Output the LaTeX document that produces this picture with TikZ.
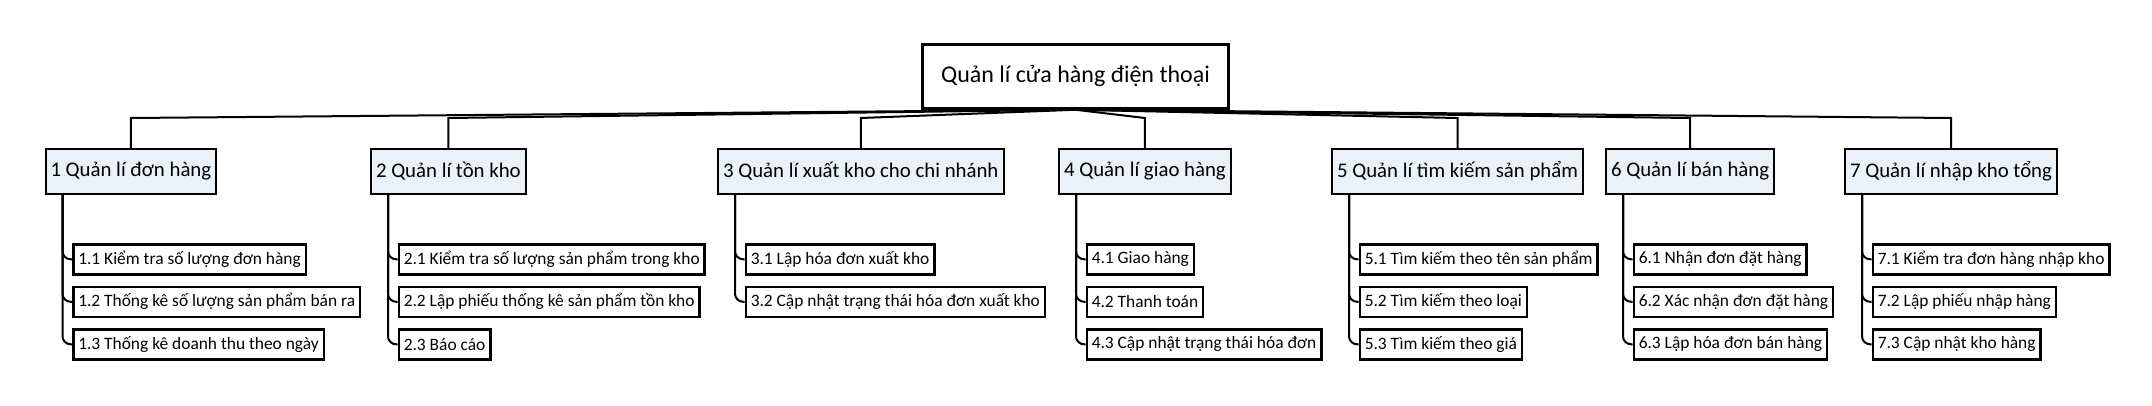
\documentclass[tikz,border=0pt]{standalone}
\usepackage{fontspec}
\setmainfont{Carlito}
\usetikzlibrary{positioning}
\definecolor{funcfill}{RGB}{234,241,249}
\tikzset{
  root/.style={
    rectangle,
    draw=black,
    line width=2.5pt,
    minimum width=306pt,
    minimum height=64pt,
    align=center,
    font=\fontsize{24}{28}\selectfont
  },
  func/.style={
    rectangle,
    draw=black,
    line width=2pt,
    fill=funcfill,
    minimum height=45pt,
    inner xsep=5pt,
    anchor=west,
    font=\fontsize{20.8}{24}\selectfont
  },
  task/.style={
    rectangle,
    draw=black,
    line width=2.5pt,
    minimum height=30pt,
    inner xsep=5pt,
    font=\fontsize{17.4}{20}\selectfont
  },
  link/.style={line width=2pt},
  branch/.style={line width=2pt, rounded corners=8pt}
}

\begin{document}
\begin{tikzpicture}[x=1pt, y=-1pt, node distance=10pt]
  \useasboundingbox (0,0) rectangle (2152,405);
  \node (root) [root] at (1075.5,76.5) {Quản lí cửa hàng điện thoại};
  \coordinate (bus) at (0,118);

  % chuc nang chinh
  \node (f1) [func] at (44.5,171.5) {1 Quản lí đơn hàng};
  \node (f2) [func] at (370,171.5) {2 Quản lí tồn kho};
  \node (f3) [func] at (717,171.5) {3 Quản lí xuất kho cho chi nhánh};
  \node (f4) [func] at (1058,171.5) {4 Quản lí giao hàng};
  \node (f5) [func] at (1331,171.5) {5 Quản lí tìm kiếm sản phẩm};
  \node (f6) [func] at (1605,171.5) {6 Quản lí bán hàng};
  \node (f7) [func] at (1844,171.5) {7 Quản lí nhập kho tổng};

  \foreach \f in {f1,f2,f3,f4,f5,f6,f7}
    \draw[link] (root.south) -- (\f.north |- bus) -- (\f.north);

  % 1
  \node (t11) [task, below=48pt of f1.south west, xshift=27.5pt, anchor=north west] {1.1 Kiểm tra số lượng đơn hàng};
  \node (t12) [task, below=of t11.south west, anchor=north west] {1.2 Thống kê số lượng sản phẩm bán ra};
  \node (t13) [task, below=of t12.south west, anchor=north west] {1.3 Thống kê doanh thu theo ngày};
  % 2
  \node (t21) [task, below=48pt of f2.south west, xshift=27.5pt, anchor=north west] {2.1 Kiểm tra số lượng sản phẩm trong kho};
  \node (t22) [task, below=of t21.south west, anchor=north west] {2.2 Lập phiếu thống kê sản phẩm tồn kho};
  \node (t23) [task, below=of t22.south west, anchor=north west] {2.3 Báo cáo};
  % 3
  \node (t31) [task, below=48pt of f3.south west, xshift=27.5pt, anchor=north west] {3.1 Lập hóa đơn xuất kho};
  \node (t32) [task, below=of t31.south west, anchor=north west] {3.2 Cập nhật trạng thái hóa đơn xuất kho};
  % 4
  \node (t41) [task, below=48pt of f4.south west, xshift=27.5pt, anchor=north west] {4.1 Giao hàng};
  \node (t42) [task, below=of t41.south west, anchor=north west] {4.2 Thanh toán};
  \node (t43) [task, below=of t42.south west, anchor=north west] {4.3 Cập nhật trạng thái hóa đơn};
  % 5
  \node (t51) [task, below=48pt of f5.south west, xshift=27.5pt, anchor=north west] {5.1 Tìm kiếm theo tên sản phẩm};
  \node (t52) [task, below=of t51.south west, anchor=north west] {5.2 Tìm kiếm theo loại};
  \node (t53) [task, below=of t52.south west, anchor=north west] {5.3 Tìm kiếm theo giá};
  % 6
  \node (t61) [task, below=48pt of f6.south west, xshift=27.5pt, anchor=north west] {6.1 Nhận đơn đặt hàng};
  \node (t62) [task, below=of t61.south west, anchor=north west] {6.2 Xác nhận đơn đặt hàng};
  \node (t63) [task, below=of t62.south west, anchor=north west] {6.3 Lập hóa đơn bán hàng};
  % 7
  \node (t71) [task, below=48pt of f7.south west, xshift=27.5pt, anchor=north west] {7.1 Kiểm tra đơn hàng nhập kho};
  \node (t72) [task, below=of t71.south west, anchor=north west] {7.2 Lập phiếu nhập hàng};
  \node (t73) [task, below=of t72.south west, anchor=north west] {7.3 Cập nhật kho hàng};

  \foreach \f/\t in {f1/t11,f1/t12,f1/t13,f2/t21,f2/t22,f2/t23,f3/t31,f3/t32,
                     f4/t41,f4/t42,f4/t43,f5/t51,f5/t52,f5/t53,f6/t61,f6/t62,f6/t63,
                     f7/t71,f7/t72,f7/t73}
    \draw[branch] ([xshift=18pt]\f.south west) |- (\t.west);
\end{tikzpicture}
\end{document}
